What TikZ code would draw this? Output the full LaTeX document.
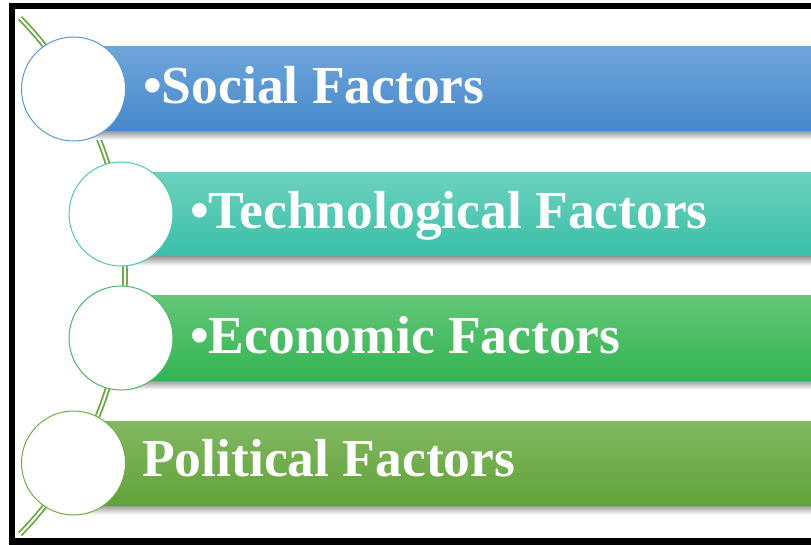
\documentclass[tikz,border=0pt]{standalone}
\usepackage{fontspec}
\setmainfont{Liberation Serif}
\definecolor{blueT}{RGB}{111,165,219}
\definecolor{blueB}{RGB}{70,136,202}
\definecolor{blueL}{RGB}{91,155,213}
\definecolor{tealT}{RGB}{108,210,190}
\definecolor{tealB}{RGB}{58,190,168}
\definecolor{tealL}{RGB}{78,200,180}
\definecolor{grnT}{RGB}{99,198,121}
\definecolor{grnB}{RGB}{52,180,82}
\definecolor{grnL}{RGB}{76,184,102}
\definecolor{oliT}{RGB}{130,184,98}
\definecolor{oliB}{RGB}{98,163,56}
\definecolor{oliL}{RGB}{112,173,71}
\definecolor{arcG}{RGB}{106,168,64}
\begin{document}
\begin{tikzpicture}[x=1pt,y=-1pt,
  bar/.style={rectangle, inner sep=0pt, minimum height=84pt},
  barshadow/.style={rectangle, inner sep=0pt, minimum height=10pt, top color=black!45, bottom color=white},
  ring/.style={circle, inner sep=0pt, minimum size=104pt, fill=white, line width=1pt},
  label/.style={anchor=base west, inner sep=0pt, text=white, font=\fontsize{53.5}{53.5}\selectfont\bfseries},
  conn/.style={draw=arcG, double=white, line width=1.8pt, double distance=2pt}]
\useasboundingbox (0,0) rectangle (811,545);
\clip (0,0) rectangle (811,545);
\fill[white] (0,0) rectangle (811,545);
% frame
\draw[line width=6.5pt] (820,6) -- (12,6) -- (12,541.5) -- (820,541.5);
% arc connector
\coordinate (top) at (20,18);
\coordinate (bot) at (21,533);
\draw[conn] (top) arc[start angle=44.3, end angle=-44.3, radius=369.5pt];
% shadows
\node[barshadow, minimum width=757pt] (s1) at (451.5,135) {};
\node[barshadow, minimum width=709pt] (s2) at (475.5,260.5) {};
\node[barshadow, minimum width=709pt] (s3) at (475.5,384.5) {};
\node[barshadow, minimum width=757pt] (s4) at (451.5,509.5) {};
% bars
\node[bar, minimum width=757pt, top color=blueT, bottom color=blueB] (b1) at (451.5,89) {};
\node[bar, minimum width=709pt, minimum height=83pt, top color=tealT, bottom color=tealB] (b2) at (475.5,214.5) {};
\node[bar, minimum width=709pt, top color=grnT, bottom color=grnB] (b3) at (475.5,338) {};
\node[bar, minimum width=757pt, top color=oliT, bottom color=oliB] (b4) at (451.5,463) {};
% circles
\node[ring, draw=blueL] (c1) at (73.5,89) {};
\node[ring, draw=tealL] (c2) at (121,214) {};
\node[ring, draw=grnL] (c3) at (121,338) {};
\node[ring, draw=oliL] (c4) at (73.5,463) {};
% texts
\node[label] (t1) at (143,104) {•Social Factors};
\node[label] (t2) at (190,229) {•Technological Factors};
\node[label] (t3) at (190,353) {•Economic Factors};
\node[label] (t4) at (142,476) {Political Factors};
\end{tikzpicture}
\end{document}
